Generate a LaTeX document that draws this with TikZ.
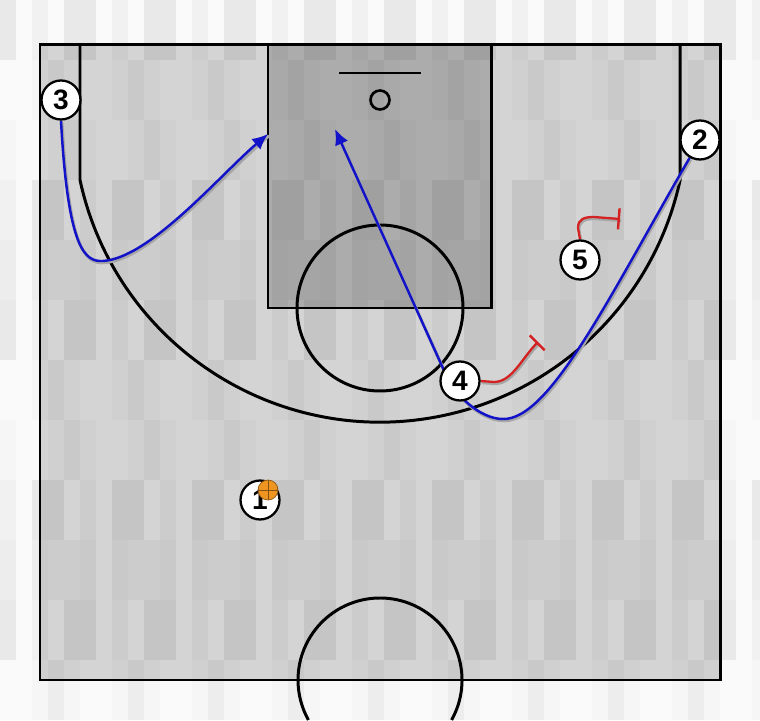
\documentclass[tikz,border=0pt]{standalone}
\usepackage{fontspec}
\newfontfamily\plyfont{Liberation Sans}
\usetikzlibrary{arrows.meta,calc}
\definecolor{CourtGray}{RGB}{212,212,212}
\definecolor{PaintGray}{RGB}{172,172,172}
\definecolor{OutWhite}{RGB}{250,250,250}
\definecolor{CutBlue}{RGB}{18,18,200}
\definecolor{ScreenRed}{RGB}{212,34,34}
\definecolor{BallOrange}{RGB}{238,148,32}
\pgfdeclarelayer{court}
\pgfdeclarelayer{moves}
\pgfsetlayers{court,moves,main}

\begin{document}
\begin{tikzpicture}[x=0.02cm, y=0.02cm,
		ply/.style={circle, draw, fill=white, line width=1.3pt, minimum size=0.78cm, inner sep=0pt,
			font=\plyfont\bfseries\fontsize{16}{16}\selectfont},
		ball/.style={circle, fill=BallOrange, draw=BallOrange!60!black, line width=0.4pt, minimum size=0.4cm, inner sep=0pt,
			path picture={
				\draw[BallOrange!55!black, line width=0.4pt] (path picture bounding box.north) -- (path picture bounding box.south);
				\draw[BallOrange!55!black, line width=0.4pt] (path picture bounding box.west) -- (path picture bounding box.east);
				\draw[BallOrange!55!black, line width=0.4pt] ([xshift=-1.5pt]path picture bounding box.north west) to[bend left=35] ([xshift=-1.5pt]path picture bounding box.south west);
				\draw[BallOrange!55!black, line width=0.4pt] ([xshift=1.5pt]path picture bounding box.north east) to[bend right=35] ([xshift=1.5pt]path picture bounding box.south east);
		}},
		courtline/.style={line width=1.7pt},
		cut/.style={CutBlue, line width=1.4pt, -{Latex[length=9pt,width=8pt]},
			preaction={draw=black!35, line width=1.7pt, -, transform canvas={xshift=0.6pt,yshift=-1pt}}},
		screen/.style={ScreenRed, line width=1.3pt, -{Bar[width=12pt,line width=1.4pt]},
			preaction={draw=black!35, line width=1.6pt, -, transform canvas={xshift=0.6pt,yshift=-1pt}}}
		]
		
		\useasboundingbox (0,0) rectangle (760,720);
		
		% ===== players =====
		\node[ply] (p3) at (61,620) {3};
		\node[ply] (p2) at (700,580) {2};
		\node[ply] (p5) at (580,460) {5};
		\node[ply] (p4) at (460,339) {4};
		\node[ply] (p1) at (260,220) {1};
		\node[ball] (bl) at (268,230) {};
		
		% ===== court =====
		\begin{pgfonlayer}{court}
			\fill[OutWhite] (0,0) rectangle (760,720);
			\fill[CourtGray] (40,40) rectangle (720,675);
			\fill[PaintGray] (268,412) rectangle (491,675);
			% stripes
			\foreach \i in {0,...,47}{
				\foreach \j in {0,...,11}{
					\pgfmathsetmacro\op{0.017*mod(\i*\i*3+\i*(\j+2)+\j*4,5)}
					\fill[black, opacity=\op] (\i*16,\j*60) rectangle ++(16,60);
				}
			}
			\draw[courtline] (268,412) rectangle (491,675);
			\draw[courtline] (80,675) -- (80,540) arc[start angle=192.2, end angle=347.8, radius=307] -- (680,675);
			\draw[courtline] (380,412) circle (83);
			\draw[line width=1.2pt] (339,647) -- (421,647);
			\draw[line width=1.5pt] (380,620) circle (9.5);
			\draw[courtline] ($(380,40)+(-29.2:82)$) arc[start angle=-29.2, end angle=209.2, radius=82];
			\draw[courtline] (40,40) rectangle (720,675);
		\end{pgfonlayer}
		
		% ===== moves =====
		\begin{pgfonlayer}{moves}
			\draw[cut] (p3.south) .. controls (68,470) and (85,458) .. (103,459)
			.. controls (150,462) and (220,545) .. (268,586);
			\draw[cut] (p2) .. controls (610,425) and (550,300) .. (503,301)
			.. controls (480,301) and (455,325) .. (446,345) -- (335,591);
			\draw[screen] (p4.east) -- (494,338) .. controls (512,338) and (522,362) .. (538,378);
			\draw[screen] (p5.north) -- (578,492) .. controls (578,501) and (584,503) .. (594,503) -- (620,501);
		\end{pgfonlayer}
		
	\end{tikzpicture}
\end{document}
